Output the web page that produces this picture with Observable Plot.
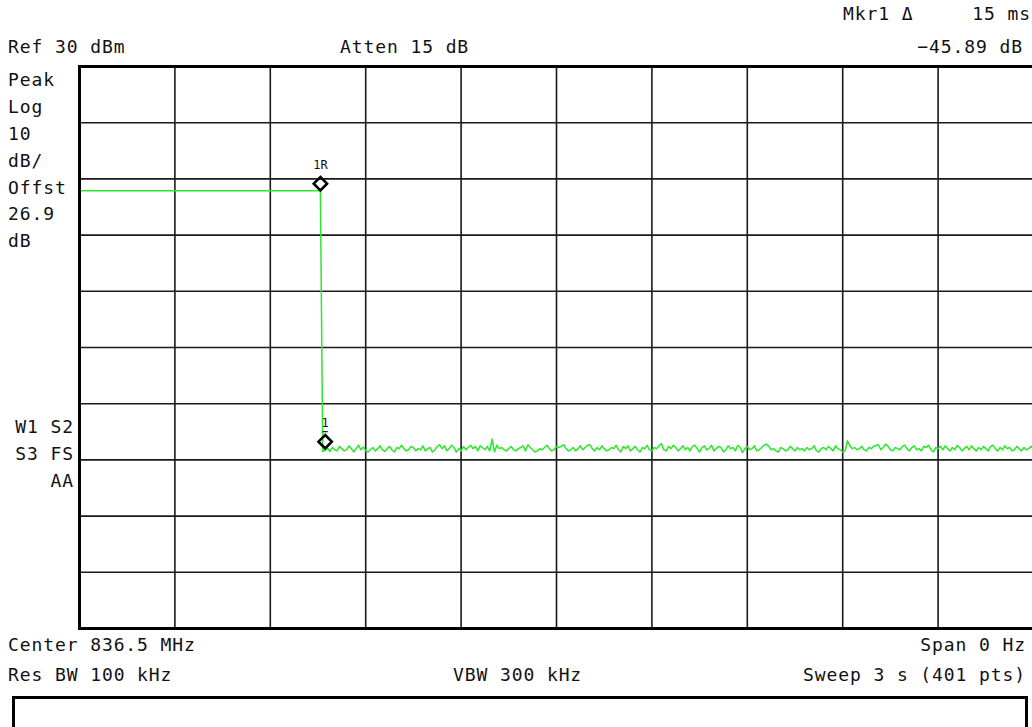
<!DOCTYPE html>
<html>
<head>
<meta charset="utf-8">
<script src="https://cdn.jsdelivr.net/npm/d3@7"></script>
<script src="https://cdn.jsdelivr.net/npm/@observablehq/plot@0.6"></script>
<style>
  html, body { margin: 0; padding: 0; background: #fff; }
  #wrap { position: relative; width: 1032px; height: 727px; overflow: hidden; background: #fff; }
  #wrap svg { position: absolute; left: 0; top: 0; }
  .lbl { position: absolute; white-space: pre; font-family: "DejaVu Sans Mono", monospace;
         font-size: 18px; letter-spacing: 0.9px; line-height: 18px; color: #111; }
  #box { position: absolute; left: 12px; top: 696px; width: 1016px; height: 80px;
         border: 3px solid #000; box-sizing: border-box; }
</style>
</head>
<body>
<div id="wrap"></div>
<script>
// ---- data ----
const sweepTime = 3;          // s, 401 pts
const stepTime = 0.0075;      // s between points
const refLevel = 30;          // dBm, top of screen
const bottomLevel = -70;      // dBm, bottom of screen
const gridTimes = [0.3, 0.6, 0.9, 1.2, 1.5, 1.8, 2.1, 2.4, 2.7];
const gridLevels = [20, 10, 0, -10, -20, -30, -40, -50, -60];
// burst "on" part of the trace
const onTimes = [0, 0.7575];
const onLevels = [7.9, 7.9];
// "off" part: points 102 .. 400
const offStartTime = 0.765;
const offLevels = [
-38.5,-38.3,-37.9,-38.5,-37.8,-38.2,-38.4,-37.6,-38.0,-38.4,-38.2,-37.5,-38.0,-38.6,-38.0,-37.4,-38.2,-37.7,-38.4,-38.6,
-38.2,-37.8,-38.4,-38.0,-37.5,-38.2,-38.5,-38.0,-37.6,-38.2,-38.6,-37.8,-38.0,-37.4,-38.0,-38.4,-38.2,-37.6,-37.8,-38.4,
-38.0,-38.2,-37.5,-38.4,-38.0,-37.8,-38.6,-38.2,-37.6,-37.3,-38.0,-37.5,-38.4,-38.0,-37.4,-37.8,-38.6,-38.0,-38.4,-37.6,
-38.2,-37.8,-37.4,-38.0,-37.6,-38.4,-37.5,-37.8,-38.2,-37.6,-38.4,-36.3,-38.6,-37.4,-38.0,-37.8,-38.2,-38.4,-38.0,-37.6,
-38.2,-38.4,-38.0,-37.8,-37.5,-38.4,-37.3,-37.8,-38.2,-38.6,-38.4,-38.0,-38.2,-37.8,-37.4,-38.0,-38.4,-38.2,-37.6,-37.8,
-37.6,-37.3,-38.0,-38.4,-38.2,-37.8,-38.4,-38.0,-37.5,-38.2,-37.8,-37.4,-37.3,-38.0,-38.4,-37.8,-38.2,-37.5,-38.0,-38.4,
-38.2,-37.8,-38.0,-37.4,-38.2,-38.6,-37.6,-38.0,-37.5,-38.4,-38.0,-37.6,-38.2,-38.6,-37.8,-38.0,-37.4,-38.2,-38.4,-37.8,
-38.0,-37.5,-37.1,-38.2,-38.4,-37.6,-38.0,-37.4,-37.8,-38.4,-38.0,-37.5,-38.2,-37.8,-38.4,-37.6,-37.4,-38.0,-38.6,-37.8,
-37.5,-38.2,-38.0,-37.4,-38.4,-38.0,-37.6,-37.8,-38.6,-38.2,-37.5,-38.0,-37.8,-38.4,-37.4,-37.8,-38.7,-38.0,-37.6,-38.2,
-38.0,-37.5,-38.4,-38.2,-37.8,-37.4,-37.2,-37.6,-38.2,-38.0,-38.4,-38.6,-37.8,-38.0,-38.4,-38.2,-37.6,-38.0,-38.4,-37.8,
-38.2,-38.0,-38.4,-37.8,-38.2,-38.0,-37.5,-38.4,-38.6,-38.0,-37.8,-38.2,-37.6,-38.0,-38.4,-37.5,-38.0,-38.2,-38.6,-38.4,
-36.6,-37.5,-38.0,-37.8,-38.2,-38.0,-37.6,-38.2,-38.4,-37.8,-38.0,-37.6,-37.4,-37.3,-38.2,-37.8,-37.2,-37.6,-38.2,-38.4,
-37.8,-38.0,-38.2,-37.6,-37.4,-38.0,-38.4,-37.8,-37.5,-38.2,-38.0,-38.4,-37.6,-37.8,-37.4,-38.2,-38.6,-37.8,-38.0,-37.6,
-38.2,-37.5,-38.0,-38.4,-37.8,-38.2,-37.4,-37.8,-38.4,-38.0,-37.6,-38.2,-37.5,-38.0,-38.4,-37.8,-38.2,-37.6,-38.0,-38.4,
-37.6,-37.4,-38.0,-38.4,-37.8,-38.2,-37.5,-38.0,-37.8,-38.4,-38.2,-37.6,-38.0,-38.4,-37.8,-38.2,-38.0,-37.6,-38.0
];
// markers
const markerNames = ["1R", "1"];
const markerTimes = [0.7575, 0.7725];
const markerLevels = [7.9, -38.0];
const activeMarker = 1;

// annotation texts
const topLeft = "Ref 30 dBm";
const topMid = "Atten 15 dB";
const mkrLabel = "Mkr1 \u0394";
const mkrTime = "15 ms";
const mkrValue = "\u221245.89 dB";
const sideTop = ["Peak", "Log", "10", "dB/", "Offst", "26.9", "dB"];
const sideBottom = ["W1 S2", "S3 FS", "AA"];
const botLeft = ["Center 836.5 MHz", "Res BW 100 kHz"];
const botMid = "VBW 300 kHz";
const botRight = ["Span 0 Hz", "Sweep 3 s (401 pts)"];

// ---- build trace ----
const trace = [];
onTimes.forEach((t, i) => trace.push({t, v: onLevels[i]}));
offLevels.forEach((v, i) => trace.push({t: offStartTime + i * stepTime, v}));
const markers = markerNames.map((n, i) => ({n, t: markerTimes[i], v: markerLevels[i]}));

// short horizontal bar symbol (active-marker underline)
const barSymbol = {
  draw(context, size) {
    const r = Math.sqrt(size) / 2;
    context.moveTo(-r, 0);
    context.lineTo(r, 0);
  }
};

const green = "#2ee62e";
const chart = Plot.plot({
  width: 1032, height: 727,
  marginLeft: 79, marginRight: -1, marginTop: 66, marginBottom: 99,
  x: {domain: [0, sweepTime], axis: null},
  y: {domain: [bottomLevel, refLevel], axis: null},
  style: {background: "transparent"},
  marks: [
    Plot.ruleX(gridTimes, {stroke: "#1a1a1a", strokeWidth: 1.6}),
    Plot.ruleY(gridLevels, {stroke: "#1a1a1a", strokeWidth: 1.6}),
    Plot.line(trace, {x: "t", y: "v", stroke: green, strokeWidth: 1.5}),
    Plot.dot(markers, {x: "t", y: "v", symbol: "diamond2", r: 6, dy: -7, stroke: "#000", strokeWidth: 2.6, fill: "none"}),
    Plot.text(markers, {x: "t", y: "v", text: "n", dy: -26, fontSize: 12, fill: "#111", fontFamily: "DejaVu Sans Mono", letterSpacing: 1}),
    Plot.dot([markers[activeMarker]], {x: "t", y: "v", symbol: barSymbol, r: 3, dy: -17, stroke: "#111", strokeWidth: 1.2}),
    Plot.frame({stroke: "#000", strokeWidth: 3})
  ]
});
const wrap = document.getElementById("wrap");
wrap.appendChild(chart);

function label(text, x, cy, align) {
  const d = document.createElement("div");
  d.className = "lbl";
  d.textContent = text;
  d.style.top = (cy - 8.6) + "px";
  if (align === "right") d.style.right = (1032 - x) + "px";
  else d.style.left = x + "px";
  wrap.appendChild(d);
}
label(mkrLabel, 843, 14);
label(mkrTime, 1031, 14, "right");
label(topLeft, 8, 47);
label(topMid, 340, 47);
label(mkrValue, 1023, 47, "right");
sideTop.forEach((s, i) => label(s, 8, 80 + i * 26.8));
sideBottom.forEach((s, i) => label(s, 74, 427 + i * 27, "right"));
label(botLeft[0], 8, 645);
label(botLeft[1], 8, 675);
label(botMid, 453, 675);
label(botRight[0], 1026, 645, "right");
label(botRight[1], 1026, 675, "right");
const box = document.createElement("div");
box.id = "box";
wrap.appendChild(box);
</script>
</body>
</html>
